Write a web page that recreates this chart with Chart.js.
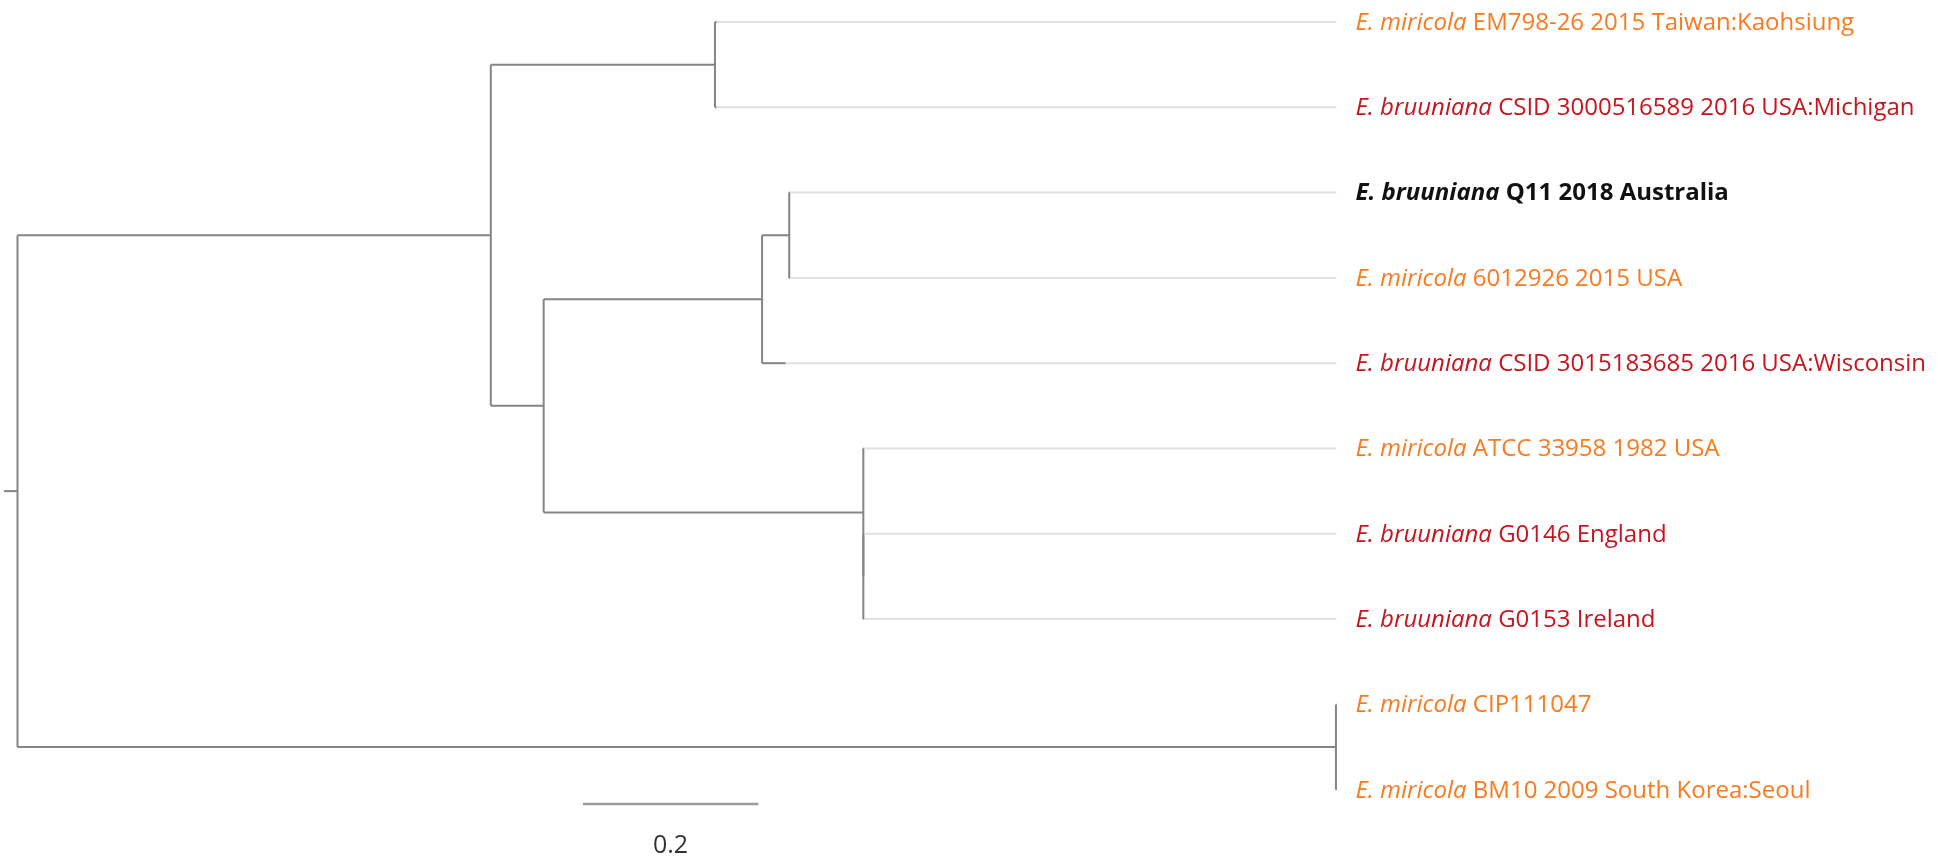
<!DOCTYPE html>
<html><head><meta charset="utf-8">
<script src="https://cdn.jsdelivr.net/npm/chart.js@4/dist/chart.umd.min.js"></script>
<style>html,body{margin:0;padding:0;background:#fff;overflow:hidden}</style>
</head><body>
<canvas id="c" width="1948" height="858"></canvas>
<script>
// ---- Leaves, top to bottom ----
const leafIds = ['L0','L1','L2','L3','L4','L5','L6','L7','L8','L9'];
const leafSpecies = ['E. miricola','E. bruuniana','E. bruuniana','E. miricola','E. bruuniana','E. miricola','E. bruuniana','E. bruuniana','E. miricola','E. miricola'];
const leafStrain = ['EM798-26 2015 Taiwan:Kaohsiung','CSID 3000516589 2016 USA:Michigan','Q11 2018 Australia','6012926 2015 USA','CSID 3015183685 2016 USA:Wisconsin','ATCC 33958 1982 USA','G0146 England','G0153 Ireland','CIP111047','BM10 2009 South Korea:Seoul'];
const leafIsStudyIsolate = [false,false,true,false,false,false,false,false,false,false];

// ---- Tree topology and branch lengths (substitutions/site) ----
const nodeIds       = ['root','A','B','L0','L1','C','D','E','L2','L3','L4','F','L5','F2','L6','L7','G','L8','L9'];
const nodeParents   = [null,'root','A','B','B','A','C','D','E','E','D','C','F','F','F2','F2','root','G','G'];
const branchLengths = [0,0.5397,0.2556,0.002,0.002,0.0603,0.249,0.031,0.001,0.001,0.027,0.3645,0.001,0,0.001,0.001,1.5034,0.0005,0.0005];
const rootBranch = 0.0154;
const scaleBarLength = 0.2;
const scaleBarLabel = '0.2';

// ---- styles ----
const speciesColor = {'E. miricola':'#FA7A20','E. bruuniana':'#C8141E'};
const studyColor = '#111111';
const branchColor = '#858585';
const guideColor = '#e1e1e1';
const FONT = '"Open Sans", Lato, sans-serif';
const LABEL_PX = 24;

// ---- layout computation from the tree ----
const depth = {}, yPos = {}, children = {};
nodeIds.forEach(id => children[id] = []);
nodeIds.forEach((id,i) => {
  const p = nodeParents[i];
  depth[id] = (p === null ? 0 : depth[p]) + branchLengths[i];
  if (p !== null) children[p].push(id);
});
function computeY(id){
  if (children[id].length === 0) { yPos[id] = leafIds.indexOf(id); return yPos[id]; }
  const ys = children[id].map(computeY);
  yPos[id] = (ys[0] + ys[ys.length-1]) / 2;
  return yPos[id];
}
computeY('root');
const alignX = Math.max(...leafIds.map(id => depth[id]));

const seg = (x1,y1,x2,y2,color,w) => ({
  data:[{x:x1,y:y1},{x:x2,y:y2}], borderColor:color, borderWidth:w,
  pointRadius:0, fill:false, tension:0, borderCapStyle:'butt'
});
const datasets = [];
// guide lines from tips to aligned labels
leafIds.forEach(id => datasets.push(seg(depth[id], yPos[id], alignX, yPos[id], guideColor, 2)));
// horizontal branches
nodeIds.forEach((id,i) => {
  const p = nodeParents[i];
  if (p === null) return;
  if (depth[id] - depth[p] > 0) datasets.push(seg(depth[p], yPos[id], depth[id], yPos[id], branchColor, 2));
});
// vertical connectors
nodeIds.forEach(id => {
  const ch = children[id];
  if (ch.length) datasets.push(seg(depth[id], yPos[ch[0]], depth[id], yPos[ch[ch.length-1]], branchColor, 2));
});
// root stub
datasets.push(seg(-rootBranch, yPos['root'], 0, yPos['root'], branchColor, 2));
// scale bar
const sbStart = depth['A'] + 0.105, sbY = leafIds.length - 1 + 0.168;
datasets.push(seg(sbStart, sbY, sbStart + scaleBarLength, sbY, '#9b9b9b', 2.5));

const labelPlugin = {
  id:'labels',
  afterDatasetsDraw(chart){
    const {ctx, scales:{x, y}} = chart;
    ctx.save();
    ctx.textBaseline = 'middle';
    const x0 = x.getPixelForValue(alignX) + 19;
    leafIds.forEach((id,i) => {
      const py = y.getPixelForValue(yPos[id]) + 1;
      const bold = leafIsStudyIsolate[i] ? 'bold ' : '';
      const col = leafIsStudyIsolate[i] ? studyColor : speciesColor[leafSpecies[i]];
      ctx.fillStyle = col;
      ctx.font = 'italic ' + bold + LABEL_PX + 'px ' + FONT;
      ctx.fillText(leafSpecies[i], x0, py);
      const w = ctx.measureText(leafSpecies[i] + ' ').width;
      ctx.font = bold + LABEL_PX + 'px ' + FONT;
      ctx.fillText(leafStrain[i], x0 + w, py);
    });
    // scale bar label
    ctx.fillStyle = '#333';
    ctx.font = '25px ' + FONT;
    ctx.textAlign = 'center';
    ctx.fillText(scaleBarLabel, x.getPixelForValue(sbStart + scaleBarLength/2), y.getPixelForValue(sbY) + 42);
    ctx.restore();
  }
};

new Chart(document.getElementById('c'), {
  type:'line',
  data:{datasets},
  options:{
    responsive:false, animation:false, devicePixelRatio:1,
    layout:{padding:0},
    plugins:{legend:{display:false}, tooltip:{enabled:false}},
    scales:{
      x:{type:'linear', min:-0.01995, max:2.2013, display:false},
      y:{type:'linear', min:-0.2579, max:9.801, reverse:true, display:false}
    }
  },
  plugins:[labelPlugin]
});
</script>
</body></html>
